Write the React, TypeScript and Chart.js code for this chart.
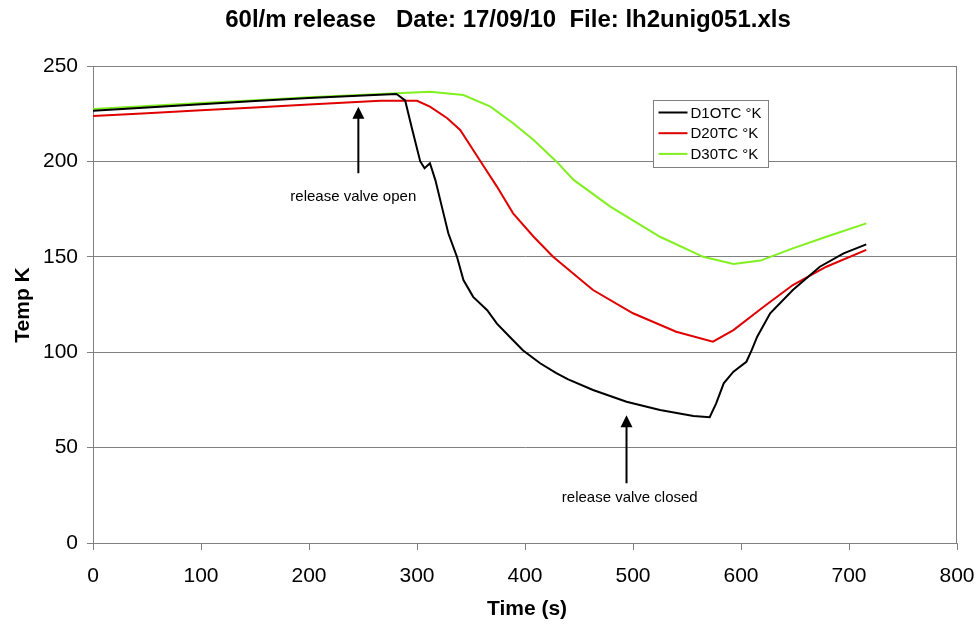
import React, { useEffect, useRef } from "react";
import { Chart, registerables } from "chart.js";

Chart.register(...registerables);

// ---- Data ----
const d1Time = [0, 50, 100, 150, 200, 250, 281, 289, 295, 303, 307, 312, 317, 323, 329, 337, 343, 352, 365, 374, 386, 398, 414, 429, 440, 463, 494, 525, 556, 571, 577, 584, 593, 605, 610, 615, 627, 648, 673, 695, 716];
const d1Temp = [226.5, 228.2, 229.9, 231.6, 233.2, 234.5, 235.3, 232, 218, 200, 196.4, 199, 190.2, 176.3, 162.3, 150, 137.8, 129, 122, 115, 108, 101, 94.2, 89, 85.8, 80.2, 74, 69.7, 66.6, 65.9, 73.2, 83.7, 89.8, 95, 101.2, 108.1, 120.4, 132.6, 144.8, 151.8, 156.5];

const d2Time = [0, 50, 100, 150, 200, 266, 300, 312, 328, 340, 358, 374, 389, 408, 426, 451, 463, 500, 540, 574, 593, 621, 648, 679, 716];
const d2Temp = [223.8, 225.3, 226.8, 228.3, 229.8, 231.8, 231.8, 228.7, 222.6, 216.5, 200.7, 186.8, 172.8, 160.5, 150, 138.2, 132.6, 120.4, 110.7, 105.5, 111.6, 123.8, 135.2, 144.8, 153.6];

const d3Time = [0, 50, 100, 150, 200, 266, 312, 343, 368, 389, 408, 429, 445, 479, 525, 565, 593, 618, 648, 679, 716];
const d3Temp = [227.4, 229.0, 230.6, 232.1, 233.6, 235.3, 236.5, 234.8, 228.7, 220, 211.2, 200, 190.3, 176.3, 160.5, 150, 146.2, 148, 154.4, 160.5, 167.5];

const seriesLabels = ["D1OTC \u00B0K", "D20TC \u00B0K", "D30TC \u00B0K"];
const seriesColors = ["#000000", "#e00000", "#80f020"];

const xTickMin = 0;
const xTickMax = 800;
const xTickStep = 100;
const yTickMin = 0;
const yTickMax = 250;
const yTickStep = 50;

const titleText = "60l/m release   Date: 17/09/10  File: lh2unig051.xls";
const xAxisTitle = "Time (s)";
const yAxisTitle = "Temp K";

const annotationLabels = ["release valve open", "release valve closed"];
const annotationTime = [245.7, 494];
const annotationTip = [228.7, 67];
const annotationTail = [193.8, 31.3];
const annotationTextTime = [241, 497];
const annotationTextTemp = [181.5, 23.4];

const FONT = "'Liberation Sans', Arial, Helvetica, sans-serif";

const toPoints = (t: number[], v: number[]) => t.map((x, i) => ({ x, y: v[i] }));

const decorPlugin = {
  id: "decor",
  beforeDatasetsDraw(chart: any) {
    const { ctx, chartArea: a } = chart;
    ctx.save();
    ctx.strokeStyle = "#808080";
    ctx.lineWidth = 1;
    ctx.beginPath();
    ctx.moveTo(Math.round(a.left) + 0.5, Math.round(a.top) + 0.5);
    ctx.lineTo(Math.round(a.right) - 0.5, Math.round(a.top) + 0.5);
    ctx.lineTo(Math.round(a.right) - 0.5, Math.round(a.bottom) + 0.5);
    ctx.stroke();
    ctx.restore();
  },
  afterDraw(chart: any) {
    const { ctx, chartArea: a, scales } = chart;
    const xs = scales.x;
    const ys = scales.y;
    ctx.save();
    // Title
    ctx.fillStyle = "#000";
    ctx.textAlign = "center";
    ctx.textBaseline = "middle";
    ctx.font = `bold 24px ${FONT}`;
    ctx.fillText(titleText, 508, 20);
    // Axis titles
    ctx.font = `bold 21px ${FONT}`;
    ctx.fillText(xAxisTitle, 527, 609);
    ctx.save();
    ctx.translate(23, 305);
    ctx.rotate(-Math.PI / 2);
    ctx.fillText(yAxisTitle, 0, 0);
    ctx.restore();

    // Annotations
    ctx.strokeStyle = "#000";
    ctx.fillStyle = "#000";
    ctx.lineWidth = 2;
    for (let i = 0; i < annotationLabels.length; i++) {
      const x = xs.getPixelForValue(annotationTime[i]);
      const yTip = ys.getPixelForValue(annotationTip[i]);
      const yTail = ys.getPixelForValue(annotationTail[i]);
      ctx.beginPath();
      ctx.moveTo(x, yTail);
      ctx.lineTo(x, yTip + 8);
      ctx.stroke();
      ctx.beginPath();
      ctx.moveTo(x, yTip);
      ctx.lineTo(x - 6, yTip + 12);
      ctx.lineTo(x + 6, yTip + 12);
      ctx.closePath();
      ctx.fill();
      ctx.font = `15px ${FONT}`;
      ctx.textAlign = "center";
      ctx.textBaseline = "middle";
      ctx.fillText(
        annotationLabels[i],
        xs.getPixelForValue(annotationTextTime[i]),
        ys.getPixelForValue(annotationTextTemp[i])
      );
    }

    // Legend box
    const bx = a.left + 560.5;
    const by = a.top + 34.5;
    const bw = 115;
    const bh = 67;
    ctx.fillStyle = "#fff";
    ctx.fillRect(bx, by, bw, bh);
    ctx.strokeStyle = "#808080";
    ctx.lineWidth = 1;
    ctx.strokeRect(bx, by, bw, bh);
    ctx.font = `15px ${FONT}`;
    ctx.textAlign = "left";
    ctx.textBaseline = "middle";
    for (let i = 0; i < seriesLabels.length; i++) {
      const cy = by + 12 + i * 20.7;
      ctx.strokeStyle = seriesColors[i];
      ctx.lineWidth = 2;
      ctx.beginPath();
      ctx.moveTo(bx + 5, cy);
      ctx.lineTo(bx + 34, cy);
      ctx.stroke();
      ctx.fillStyle = "#000";
      ctx.fillText(seriesLabels[i], bx + 37, cy + 1);
    }
    ctx.restore();
  },
};

export default function App() {
  const ref = useRef<HTMLCanvasElement | null>(null);
  useEffect(() => {
    document.body.style.margin = "0";
    const canvas = ref.current;
    if (!canvas) return;
    const chart = new Chart(canvas, {
      type: "line",
      data: {
        datasets: [
          { label: seriesLabels[0], data: toPoints(d1Time, d1Temp), borderColor: seriesColors[0] },
          { label: seriesLabels[1], data: toPoints(d2Time, d2Temp), borderColor: seriesColors[1] },
          { label: seriesLabels[2], data: toPoints(d3Time, d3Temp), borderColor: seriesColors[2] },
        ].map((d) => ({ ...d, borderWidth: 2, pointRadius: 0, fill: false, tension: 0 })),
      },
      options: {
        animation: false,
        responsive: false,
        layout: { padding: { top: 66, right: 23, left: 0, bottom: 0 } },
        plugins: { legend: { display: false }, title: { display: false }, tooltip: { enabled: false } },
        scales: {
          x: {
            type: "linear",
            min: xTickMin,
            max: xTickMax,
            afterFit: (s: any) => {
              s.height = 81;
              s.paddingLeft = 0;
              s.paddingRight = 0;
            },
            ticks: { stepSize: xTickStep, color: "#000", font: { family: FONT, size: 21 }, padding: 14, maxRotation: 0 },
            grid: { drawOnChartArea: false, drawTicks: true, tickLength: 7, color: "#808080" },
            border: { display: true, color: "#808080" },
          },
          y: {
            type: "linear",
            min: yTickMin,
            max: yTickMax,
            afterFit: (s: any) => {
              s.width = 93;
              s.paddingTop = 0;
              s.paddingBottom = 0;
            },
            ticks: { stepSize: yTickStep, color: "#000", font: { family: FONT, size: 21 }, padding: 9 },
            grid: { drawOnChartArea: true, drawTicks: true, tickLength: 6, color: "#808080" },
            border: { display: true, color: "#808080" },
          },
        },
      },
      plugins: [decorPlugin],
    });
    return () => chart.destroy();
  }, []);
  return (
    <div style={{ position: "fixed", left: 0, top: 0, width: 980, height: 624, background: "#fff" }}>
      <canvas ref={ref} width={980} height={624} />
    </div>
  );
}
